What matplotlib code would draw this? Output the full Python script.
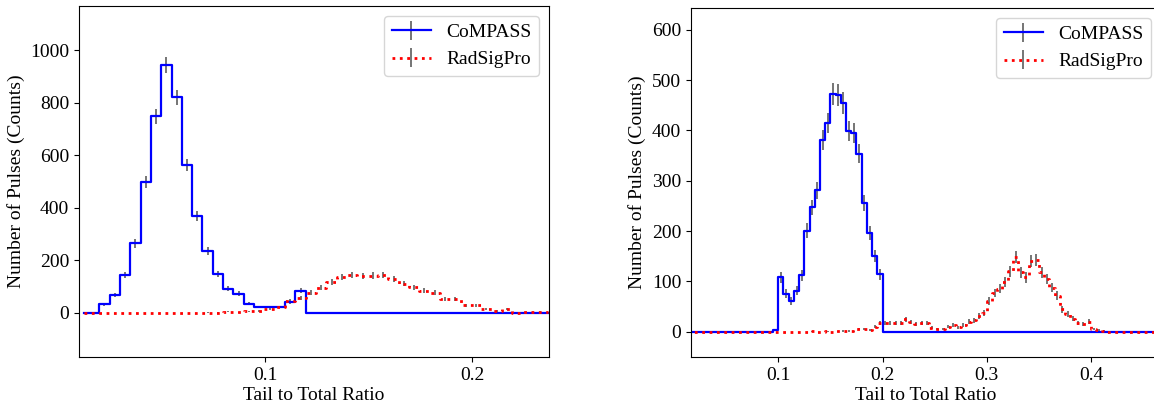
"""Tail-to-total PSD histograms: CoMPASS vs RadSigPro, two detectors side by side."""
import numpy as np
import matplotlib

matplotlib.use("Agg")
import matplotlib.pyplot as plt  # noqa: E402

plt.rcParams["font.family"] = ["Liberation Serif", "DejaVu Serif"]
plt.rcParams["font.size"] = 14

BIN_WIDTH = 0.005

# ---- left panel: bin centres start at 0.012 ----
LEFT_START = 0.012
left_compass = [0, 0, 33, 67, 143, 265, 497, 748, 944, 820, 563, 370, 237, 147,
                92, 73, 35, 23, 23, 23, 42, 85,
                0, 0, 0, 0, 0, 0, 0, 0, 0, 0, 0, 0, 0, 0, 0, 0, 0, 0, 0, 0, 0, 0, 0, 0]
left_radsig = [0, 0, 0, 0, 0, 0, 0, 0, 0, 0, 0, 0, 1, 1,
               4, 3, 6, 8, 13, 23, 46, 57, 77, 95, 118, 135, 145, 140, 142, 143,
               128, 111, 97, 84, 77, 54, 54, 29, 29, 14, 8, 14, 0, 2, 2, 2]

# ---- right panel: bin centres start at 0.0125 ----
RIGHT_START = 0.0125
right_compass = [0, 0, 0, 0, 0, 0, 0, 0, 0, 0, 0, 0, 0, 0, 0, 0, 0, 3,
                 108, 76, 62, 82, 112, 201, 247, 281, 381, 415, 473, 471, 454, 398,
                 395, 354, 255, 197, 151, 114,
                 0, 0, 0, 0, 0, 0, 0, 0, 0, 0, 0, 0, 0, 0, 0, 0, 0, 0, 0, 0, 0, 0, 0,
                 0, 0, 0, 0, 0, 0, 0, 0, 0, 0, 0, 0, 0, 0, 0, 0, 0, 0, 0, 0, 0, 0, 0,
                 0, 0, 0, 0, 0, 0, 0, 0]
right_radsig = [0, 0, 0, 0, 0, 0, 0, 0, 0, 0, 0, 0, 0, 0, 0, 0, 0, 0, 0, 0, 0, 0,
                0, 0, 1, 0, 0, 1, 0,
                1, 2, 2, 1, 5, 6, 4, 10, 17, 18, 17, 18, 17, 25, 19, 16, 17, 17,
                8, 5, 6, 10, 13, 9, 14, 20, 23, 32, 38, 62, 77, 86, 98, 120, 148,
                118, 108, 140, 142, 118, 105, 88, 72, 45, 35, 26, 18, 16, 20, 5, 3,
                2, 0,
                0, 0, 0, 0, 0, 0, 0, 0, 0, 0]

left_xticks = [0.1, 0.2]
left_yticks = [0, 200, 400, 600, 800, 1000]
right_xticks = [0.1, 0.2, 0.3, 0.4]
right_yticks = [0, 100, 200, 300, 400, 500, 600]

ECOLOR = "#6a6a6a"


def _centres(start, counts):
    return start + BIN_WIDTH * np.arange(len(counts))


def _draw(ax, start, compass, radsig):
    x = _centres(start, compass)
    c = np.asarray(compass, dtype=float)
    r = np.asarray(radsig, dtype=float)
    ax.errorbar(x, c, yerr=np.sqrt(c), drawstyle="steps-mid", color="blue",
                lw=1.6, ecolor=ECOLOR, elinewidth=1.3, label="CoMPASS")
    ax.errorbar(x, r, yerr=np.sqrt(r), drawstyle="steps-mid", color="red",
                ls=":", lw=2.0, ecolor=ECOLOR, elinewidth=1.3, label="RadSigPro")
    ax.set_xlabel("Tail to Total Ratio", labelpad=2)
    ax.set_ylabel("Number of Pulses (Counts)")
    ax.legend(loc="upper right", fontsize=14)


W, H = 1154, 408
fig = plt.figure(figsize=(W / 100, H / 100), dpi=100)
ax1 = fig.add_axes([79 / W, (H - 357) / H, 470 / W, 351 / H])
ax2 = fig.add_axes([691 / W, (H - 357) / H, 470 / W, 349 / H])

_draw(ax1, LEFT_START, left_compass, left_radsig)
ax1.set_xlim(0.0097, 0.2373)
ax1.set_ylim(-168, 1168)
ax1.set_xticks(left_xticks, [f"{t:g}" for t in left_xticks])
ax1.set_yticks(left_yticks)

_draw(ax2, RIGHT_START, right_compass, right_radsig)
ax2.set_xlim(0.0163, 0.467)
ax2.set_ylim(-50, 643)
ax2.set_xticks(right_xticks, [f"{t:g}" for t in right_xticks])
ax2.set_yticks(right_yticks)

fig.savefig("out.png", dpi=100, facecolor="white")
